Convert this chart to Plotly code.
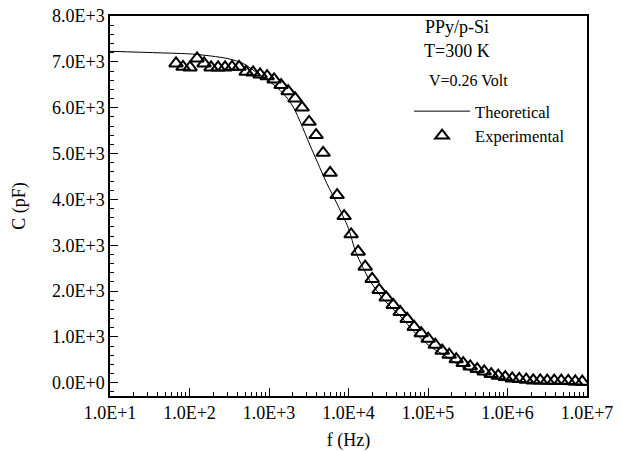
import plotly.graph_objects as go

freq_exp = [67.7, 82.9, 101.6, 124.5, 152.5, 186.7, 228.7, 280.2, 343.1, 420.3,
            514.9, 630.6, 772.5, 946.2, 1159, 1420, 1739, 2130, 2609, 3196,
            3915, 4796, 5874, 7195, 8814, 10796, 13224, 16198, 19842, 24303,
            29770, 36466, 44668, 54713, 67020, 82090, 100500, 123200, 150900, 184800,
            226300, 277300, 339600, 415900, 509500, 624100, 764500, 936300, 1147000, 1405000,
            1721000, 2108000, 2582000, 3162000, 3873000, 4745000, 5812000, 7119000, 8720000]
cap_exp = [6965, 6891, 6878, 7074, 6965, 6878, 6878, 6878, 6891, 6891,
           6782, 6769, 6725, 6688, 6616, 6492, 6361, 6202, 6002, 5692,
           5402, 5016, 4580, 4094, 3636, 3237, 2858, 2531, 2263, 2023,
           1860, 1696, 1544, 1391, 1217, 1079, 959, 828, 698, 610,
           512, 429, 355, 298, 246, 189, 153, 124, 94, 81,
           65, 50, 50, 44, 44, 44, 37, 28, 22]

# Theoretical curve
freq_th = [10, 42.6, 111, 297, 472, 773, 1033, 1506, 2011, 3486,
           5337, 7128, 9976, 12470, 18700, 27290, 44670, 68970, 106700, 164800,
           254300, 392600, 606600, 937600, 1446000, 2582000, 4613000, 10000000]
cap_th = [7230, 7196, 7168, 7074, 6965, 6710, 6564, 6311, 6019, 5075,
          4349, 3913, 3368, 2830, 2219, 1827, 1456, 1086, 791, 584,
          366, 225, 126, 61, 17, -15, -37, -59]

x_tickvals = [1e1, 1e2, 1e3, 1e4, 1e5, 1e6, 1e7]
x_ticktext = ["1.0E+1", "1.0E+2", "1.0E+3", "1.0E+4", "1.0E+5", "1.0E+6", "1.0E+7"]
y_tickvals = [0, 1000, 2000, 3000, 4000, 5000, 6000, 7000, 8000]
y_ticktext = ["0.0E+0", "1.0E+3", "2.0E+3", "3.0E+3", "4.0E+3", "5.0E+3", "6.0E+3", "7.0E+3", "8.0E+3"]

FONT = "Liberation Serif"

fig = go.Figure()
fig.add_trace(go.Scatter(x=freq_th, y=cap_th, mode="lines", name="Theoretical",
                         line=dict(color="black", width=1, shape="spline", smoothing=0.8)))
fig.add_trace(go.Scatter(x=freq_exp, y=cap_exp, mode="markers", name="Experimental",
                         marker=dict(symbol="triangle-up-open", size=12, color="black",
                                     line=dict(width=2, color="black"))))

fig.update_layout(
    width=622, height=451,
    margin=dict(l=110, r=35, t=16, b=55),
    paper_bgcolor="white", plot_bgcolor="white",
    font=dict(family=FONT, size=18, color="black"),
    showlegend=True,
    legend=dict(x=0.627, y=0.795, xanchor="left", yanchor="top",
                font=dict(family=FONT, size=16.5, color="black"),
                bgcolor="rgba(0,0,0,0)", itemwidth=56, tracegroupgap=0),
    xaxis=dict(type="log", range=[1, 7], tickvals=x_tickvals, ticktext=x_ticktext,
               ticks="inside", ticklen=8, tickwidth=1, tickcolor="black",
               showline=True, linecolor="black", linewidth=1.5, mirror=True,
               showgrid=False, zeroline=False, automargin=False,
               minor=dict(ticks="inside", ticklen=4, tickcolor="black", dtick="D1", showgrid=False),
               title=dict(text="f (Hz)", font=dict(size=18), standoff=12),
               tickfont=dict(size=18)),
    yaxis=dict(range=[-290, 8000], tickvals=y_tickvals, ticktext=y_ticktext,
               ticks="inside", ticklen=8, tickwidth=1, tickcolor="black",
               showline=True, linecolor="black", linewidth=1.5, mirror=True,
               showgrid=False, zeroline=False, automargin=False,
               minor=dict(ticks="inside", ticklen=4, tickcolor="black", dtick=200, showgrid=False),
               title=dict(text="C (pF)", font=dict(size=18), standoff=22),
               tickfont=dict(size=18)),
    annotations=[
        dict(text="PPy/p-Si", x=0.728, y=0.971, xref="paper", yref="paper",
             xanchor="center", yanchor="middle",
             showarrow=False, font=dict(family=FONT, size=18)),
        dict(text="T=300 K", x=0.728, y=0.908, xref="paper", yref="paper",
             xanchor="center", yanchor="middle",
             showarrow=False, font=dict(family=FONT, size=18)),
        dict(text="V=0.26 Volt", x=0.751, y=0.829, xref="paper", yref="paper",
             xanchor="center", yanchor="middle",
             showarrow=False, font=dict(family=FONT, size=16)),
    ],
)

fig.write_html("out.html")
